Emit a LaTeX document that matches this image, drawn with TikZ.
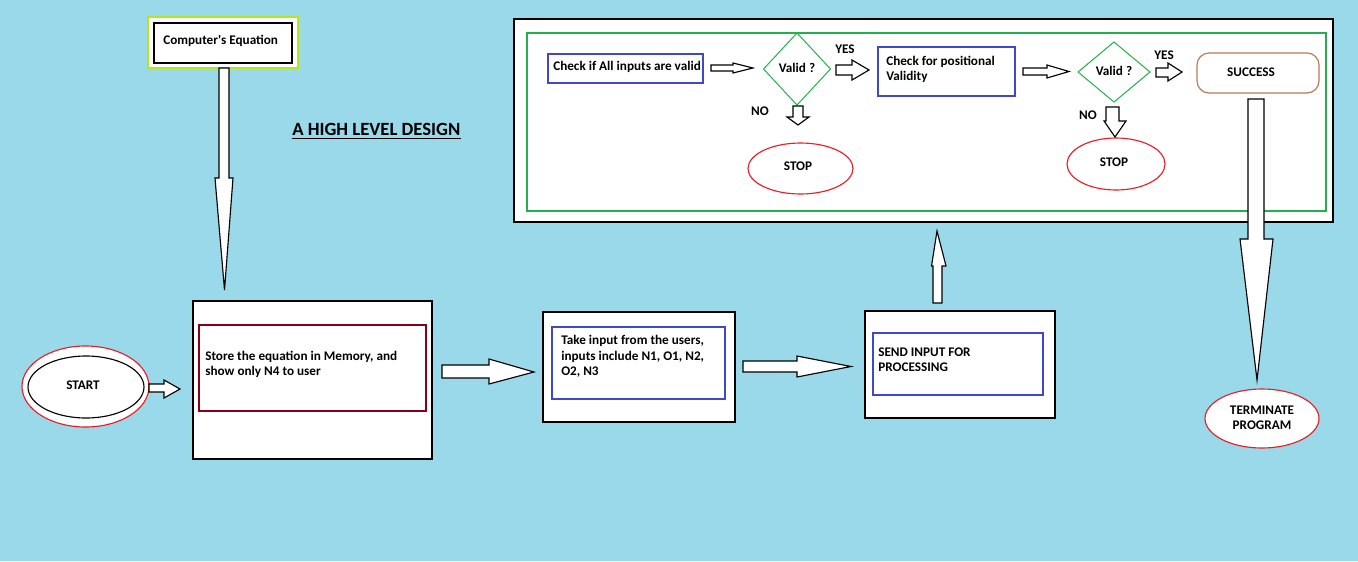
\documentclass[tikz,border=0pt]{standalone}
\usepackage{fontspec}
\setmainfont{Carlito}
\usetikzlibrary{shapes.geometric}
\definecolor{bg}{RGB}{153,217,234}
\definecolor{pred}{RGB}{237,28,36}
\definecolor{pgreen}{RGB}{34,177,76}
\definecolor{pblue}{RGB}{63,72,204}
\definecolor{pmaroon}{RGB}{136,0,21}
\definecolor{pbrown}{RGB}{185,122,87}
\definecolor{plime}{RGB}{181,230,29}
\tikzset{
  sz/.style 2 args={minimum width={#1*0.75pt}, minimum height={#2*0.75pt}},
  boxnode/.style={draw=#1, fill=white, line width=0.9pt, inner sep=0pt, outer sep=0pt, anchor=north west},
  ell/.style={ellipse, draw=#1, fill=white, line width=0.85pt, inner sep=0pt, outer sep=0pt},
  dia/.style={diamond, draw=pgreen, fill=white, line width=0.75pt, inner sep=0pt, outer sep=0pt},
  txt/.style={font=\fontsize{9.9}{11.4}\selectfont\bfseries, inner sep=0pt, align=left},
  blk/.style={draw=black, fill=white, line width=0.85pt, line join=miter},
}
\begin{document}
\begin{tikzpicture}[x=0.75pt, y=-0.75pt]
\fill[bg] (0,0) rectangle (1358,561);
\useasboundingbox (0,0) rectangle (1358,561);

% Computer's equation
\node[boxnode=plime, sz={150}{51}] (ceqo) at (148,17) {};
\node[boxnode=black, sz={138}{40}] (ceq) at (154,23) {};
\node[txt, anchor=west] (ceqt) at (163,41) {Computer\textquotesingle s Equation};

% title
\node[txt, font=\fontsize{14}{16}\selectfont\bfseries, anchor=west] (title) at (292,129) {A HIGH LEVEL DESIGN};
\draw[line width=1.3pt] ([yshift=-2.2pt]title.south west) -- ([yshift=-2.2pt]title.south east);

% start
\node[ell=pred, sz={127}{81}] (starto) at (85.5,386.5) {};
\node[ell=black, sz={116}{62}] (start) at (86,387) {};
\node[txt] (startt) at (83,385) {START};

% store
\node[boxnode=black, sz={239}{158}] (storeo) at (193,301) {};
\node[boxnode=pmaroon, sz={227}{86}] (store) at (199,325) {};
\node[txt, anchor=west] (storet) at (205,364.5) {Store the equation in Memory, and\\show only N4 to user};

% take input
\node[boxnode=black, sz={192}{110}] (takeo) at (543,312) {};
\node[boxnode=pblue, sz={173}{72}] (take) at (552,327) {};
\node[txt, anchor=west, font=\fontsize{9.9}{11.6}\selectfont\bfseries] (taket) at (561,356.5) {Take input from the users,\\inputs include N1, O1, N2,\\O2, N3};

% send
\node[boxnode=black, sz={190}{107}] (sendo) at (865,311) {};
\node[boxnode=pblue, sz={170}{62}] (send) at (873,333) {};
\node[txt, anchor=west] (sendt) at (878,359.5) {SEND INPUT FOR\\PROCESSING};

% panel
\node[boxnode=black, sz={819}{203}] (panel) at (514,19) {};
\node[boxnode=pgreen, sz={799}{178}] (panelin) at (527,33) {};

\node[boxnode=pblue, sz={155}{29}] (chk) at (548,54) {};
\node[txt, anchor=west] (chkt) at (553,67) {Check if All inputs are valid};

\node[dia, sz={67}{72}] (v1) at (797,69) {};
\node[txt] (v1t) at (797,68) {Valid ?};
\node[ell=pred, sz={105}{51}] (stop1) at (800.5,168.5) {};
\node[txt] (stop1t) at (798,166) {STOP};
\node[txt] (yes1) at (845,49) {YES};
\node[txt] (no1) at (760,111) {NO};

\node[boxnode=pblue, sz={137}{49}] (pos) at (878,47) {};
\node[txt, anchor=west] (post) at (886,69.5) {Check for positional\\Validity};

\node[dia, sz={72}{60}] (v2) at (1114,72) {};
\node[txt] (v2t) at (1114,71) {Valid ?};
\node[ell=pred, sz={98}{52}] (stop2) at (1116,164) {};
\node[txt] (stop2t) at (1114,162) {STOP};
\node[txt] (yes2) at (1164,55) {YES};
\node[txt] (no2) at (1088,115) {NO};

\node[boxnode=pbrown, sz={122}{40}, rounded corners=9pt] (succ) at (1197,53) {};
\node[txt] (succt) at (1251,72) {SUCCESS};

% terminate
\node[ell=pred, sz={114}{59}] (term) at (1262,418.5) {};
\node[txt, align=center] (termt) at (1262,417.5) {TERMINATE\\PROGRAM};

% block arrows
\draw[blk] (219,68) -- (219,178) -- (215,178) -- (224.5,290) -- (233,178) -- (229,178) -- (229,68) -- cycle;
\draw[blk] (149,384) -- (164,384) -- (164,380) -- (180,389) -- (164,398) -- (164,392) -- (149,392) -- cycle;
\draw[blk] (442,365) -- (489,365) -- (489,359) -- (534,372) -- (489,384) -- (489,378) -- (442,378) -- cycle;
\draw[blk] (743,361) -- (797,361) -- (797,356) -- (851,366.5) -- (797,377) -- (797,372) -- (743,372) -- cycle;
\draw[blk] (933,303) -- (933,266) -- (931.5,266) -- (937,231) -- (946,266) -- (942,266) -- (942,303) -- cycle;
\draw[blk] (711,65) -- (733,65) -- (733,63) -- (753,68) -- (733,73) -- (733,71) -- (711,71) -- cycle;
\draw[blk] (836,65) -- (852,65) -- (852,60) -- (869,70) -- (852,80) -- (852,75) -- (836,75) -- cycle;
\draw[blk] (793,106) -- (803,106) -- (803,117) -- (809,117) -- (798,125) -- (787,117) -- (793,117) -- cycle;
\draw[blk] (1023,68) -- (1047,68) -- (1047,65) -- (1069,71.5) -- (1047,78) -- (1047,75) -- (1023,75) -- cycle;
\draw[blk] (1156,68) -- (1168,68) -- (1168,63) -- (1182,72) -- (1168,81) -- (1168,77) -- (1156,77) -- cycle;
\draw[blk] (1106,107) -- (1119,107) -- (1119,121) -- (1126,121) -- (1115,137) -- (1104,121) -- (1106,121) -- cycle;
\draw[blk] (1248,99) -- (1264,99) -- (1264,239) -- (1273,239) -- (1257,380) -- (1240,239) -- (1248,239) -- cycle;
\end{tikzpicture}
\end{document}
